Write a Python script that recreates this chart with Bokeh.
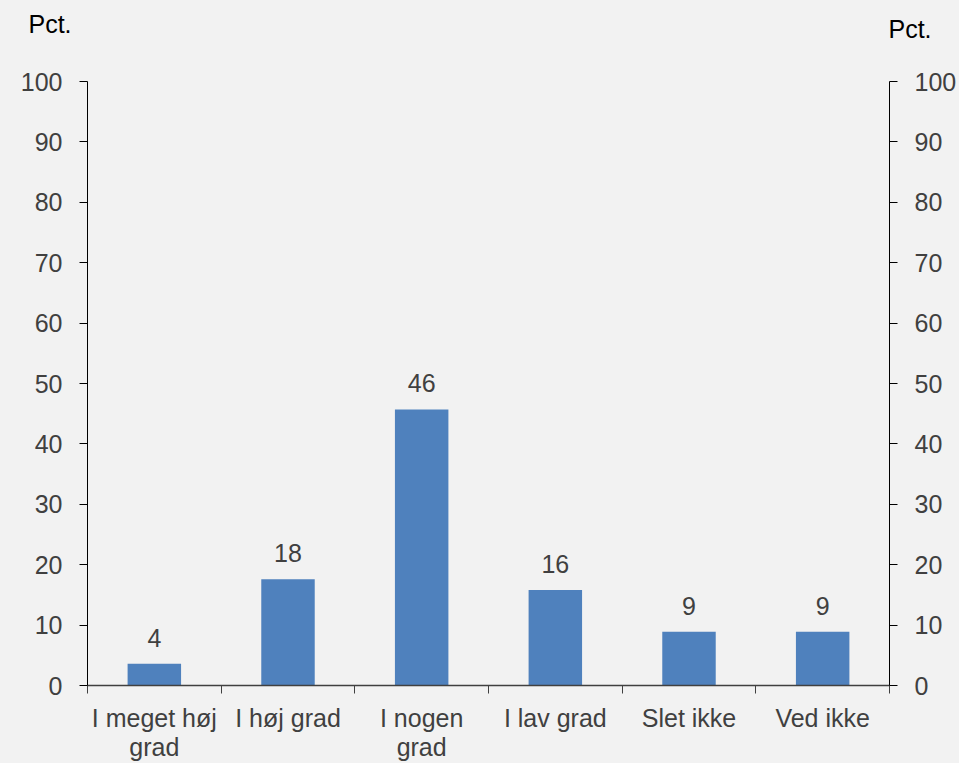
from bokeh.plotting import figure
from bokeh.layouts import column
from bokeh.models import Range1d, LinearAxis, FixedTicker, Label, ColumnDataSource
from bokeh.embed import file_html
from bokeh.resources import INLINE
from bokeh.core.properties import value

categories = ["I meget høj\ngrad", "I høj grad", "I nogen\ngrad", "I lav grad", "Slet ikke", "Ved ikke"]
values = [3.6, 17.6, 45.7, 15.8, 8.9, 8.9]
value_labels = ["4", "18", "46", "16", "9", "9"]
y_ticks = [0, 10, 20, 30, 40, 50, 60, 70, 80, 90, 100]
unit_label = "Pct."

FONT = "Liberation Sans"
BG = "#f2f2f2"
TXT = "#404040"
FS = "25px"
HEAD = 50

# header strip carrying the two "Pct." unit labels
h = figure(width=959, height=HEAD, output_backend="svg", toolbar_location=None, title=None,
           x_axis_location=None, y_axis_location=None,
           x_range=Range1d(0, 1), y_range=Range1d(0, 1),
           min_border_left=0, min_border_right=0, min_border_top=0, min_border_bottom=0)
h.frame_align = False
h.background_fill_color = BG
h.border_fill_color = BG
h.outline_line_color = None
h.xgrid.visible = False
h.ygrid.visible = False
h.add_layout(Label(x=28, y=HEAD - 23, x_units="screen", y_units="screen", text=unit_label,
                   text_font=FONT, text_font_size=FS, text_color="#000000",
                   text_baseline="alphabetic"))
h.add_layout(Label(x=888, y=HEAD - 28, x_units="screen", y_units="screen", text=unit_label,
                   text_font=FONT, text_font_size=FS, text_color="#000000",
                   text_baseline="alphabetic"))

xs = [i + 0.5 for i in range(len(categories))]
src = ColumnDataSource(dict(x=xs, top=values, lab=value_labels))

p = figure(width=959, height=763 - HEAD, output_backend="svg", toolbar_location=None,
           x_range=Range1d(0, len(categories)), y_range=Range1d(0, 100),
           min_border_left=87, min_border_right=70, min_border_top=81 - HEAD, min_border_bottom=76)
p.frame_align = False
p.background_fill_color = BG
p.border_fill_color = BG
p.outline_line_color = None
p.xgrid.visible = False
p.ygrid.visible = False

p.vbar(x="x", top="top", width=0.4, bottom=0, source=src, fill_color="#4f81bd", line_color=None)
p.text(x="x", y="top", text="lab", source=src, text_align="center", text_baseline="alphabetic",
       y_offset=-26, text_font=value(FONT), text_font_size=FS, text_color=TXT)

# x axis: labels at category centres, tick marks between categories
xa = p.xaxis[0]
xa.ticker = FixedTicker(ticks=xs, minor_ticks=list(range(len(categories) + 1)))
xa.major_label_overrides = {x: c for x, c in zip(xs, categories)}
xa.major_tick_out = 0
xa.major_tick_in = 0
xa.minor_tick_out = 8
xa.minor_tick_in = 0
xa.minor_tick_line_color = "#404040"
xa.axis_line_color = "#404040"
xa.axis_line_width = 1.5
xa.major_label_standoff = 10
xa.major_label_text_line_height = 1.05
xa.major_label_text_font = FONT
xa.major_label_text_font_size = FS
xa.major_label_text_color = TXT

def style_y(ax):
    ax.ticker = FixedTicker(ticks=y_ticks)
    ax.major_tick_out = 8
    ax.major_tick_in = 0
    ax.minor_tick_out = 0
    ax.minor_tick_in = 0
    ax.axis_line_color = "#000000"
    ax.major_tick_line_color = "#000000"
    ax.major_label_standoff = 17
    ax.major_label_text_font = FONT
    ax.major_label_text_font_size = FS
    ax.major_label_text_color = TXT

style_y(p.yaxis[0])
ra = LinearAxis()
style_y(ra)
p.add_layout(ra, "right")

layout = column(h, p, spacing=0)
html = file_html(layout, INLINE)
html = html.replace("</head>", "<style>html,body{background:#f2f2f2;}</style></head>", 1)
open("out.html", "w").write(html)
